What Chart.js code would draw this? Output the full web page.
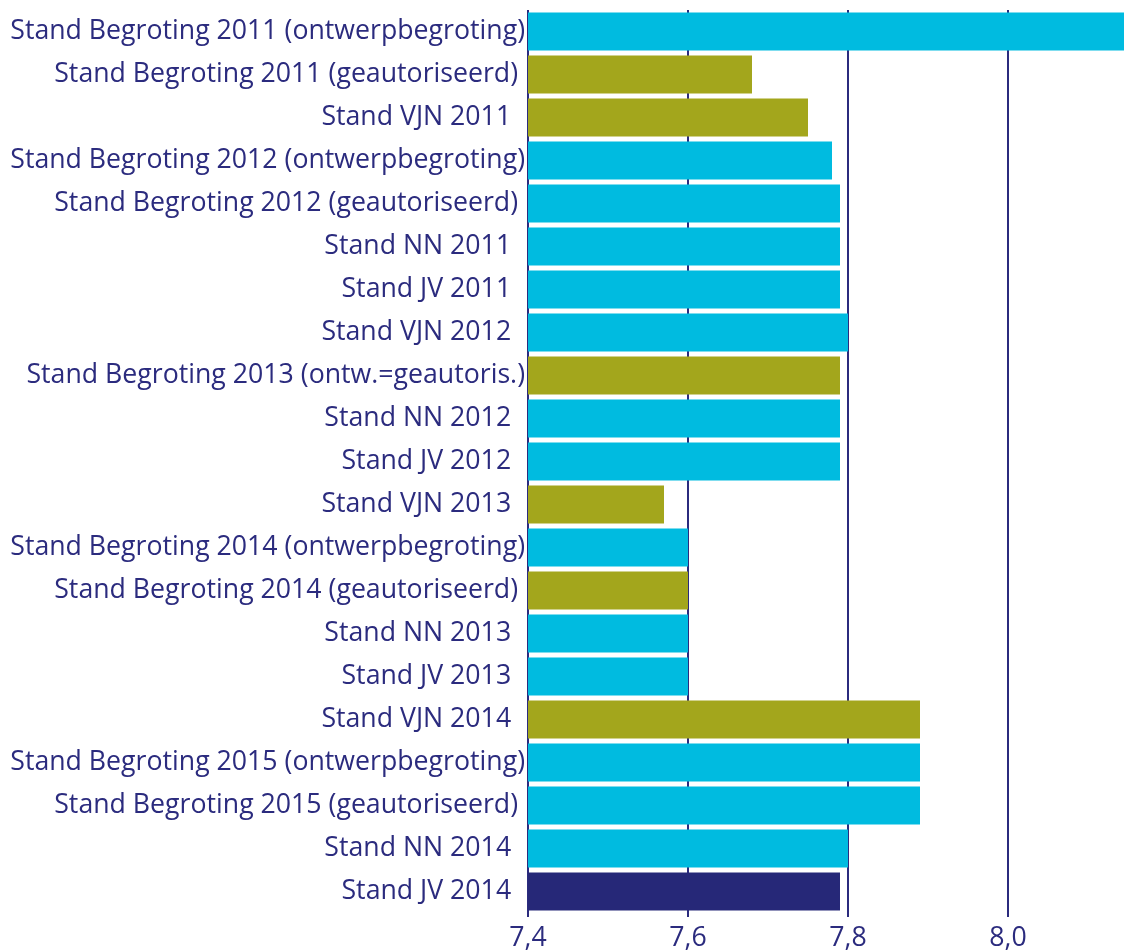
<!DOCTYPE html>
<html>
<head>
<meta charset="utf-8">
<script src="https://cdn.jsdelivr.net/npm/chart.js@4.4.1/dist/chart.umd.min.js"></script>
<style>
  html, body { margin: 0; padding: 0; background: #ffffff; overflow: hidden; }
  #wrap { width: 1124px; height: 950px; overflow: hidden; position: relative; }
  canvas { display: block; }
</style>
</head>
<body>
<div id="wrap"><canvas id="c" width="1124" height="980"></canvas></div>
<script>
const categories = [
  "Stand Begroting 2011 (ontwerpbegroting)",
  "Stand Begroting 2011 (geautoriseerd) ",
  "Stand VJN 2011  ",
  "Stand Begroting 2012 (ontwerpbegroting)",
  "Stand Begroting 2012 (geautoriseerd) ",
  "Stand NN 2011  ",
  "Stand JV 2011  ",
  "Stand VJN 2012  ",
  "Stand Begroting 2013 (ontw.=geautoris.)",
  "Stand NN 2012  ",
  "Stand JV 2012  ",
  "Stand VJN 2013  ",
  "Stand Begroting 2014 (ontwerpbegroting)",
  "Stand Begroting 2014 (geautoriseerd) ",
  "Stand NN 2013  ",
  "Stand JV 2013  ",
  "Stand VJN 2014  ",
  "Stand Begroting 2015 (ontwerpbegroting)",
  "Stand Begroting 2015 (geautoriseerd) ",
  "Stand NN 2014  ",
  "Stand JV 2014  "
];
const values = [
  8.25, 7.68, 7.75, 7.78, 7.79, 7.79, 7.79, 7.80, 7.79, 7.79, 7.79,
  7.57, 7.60, 7.60, 7.60, 7.60, 7.89, 7.89, 7.89, 7.80, 7.79
];
// kind of each stage: "regular", "update", "final"
const kinds = [
  "regular", "update", "update", "regular", "regular", "regular", "regular",
  "regular", "update", "regular", "regular", "update", "regular", "update",
  "regular", "regular", "update", "regular", "regular", "regular", "final"
];
const xTickLabels = ["7,4", "7,6", "7,8", "8,0"];
const xMin = 7.4, xMax = 8.145, xStep = 0.2;

const kindColors = { regular: "#00BBE0", update: "#A3A61C", final: "#262878" };
const navy = "#2B2B7E";
const fontFamily = "'Open Sans', 'Noto Sans', sans-serif";
const fontSize = 26.7;

const ctx = document.getElementById("c").getContext("2d");
new Chart(ctx, {
  type: "bar",
  data: {
    labels: categories,
    datasets: [{
      data: values,
      backgroundColor: kinds.map(k => kindColors[k]),
      borderWidth: 0,
      barPercentage: 0.884,
      categoryPercentage: 1.0
    }]
  },
  options: {
    indexAxis: "y",
    responsive: false,
    animation: false,
    layout: { padding: { top: 10, left: 0, right: 0, bottom: 0 } },
    plugins: { legend: { display: false }, tooltip: { enabled: false } },
    scales: {
      x: {
        min: xMin, max: xMax,
        afterFit: s => { s.height = 980 - 913; s.paddingLeft = 0; s.paddingRight = 0; },
        grid: { color: navy, lineWidth: 2, drawTicks: true, tickLength: 4, tickColor: navy },
        border: { display: false },
        ticks: {
          stepSize: xStep,
          includeBounds: false,
          color: navy,
          padding: 5,
          font: { family: fontFamily, size: fontSize },
          callback: (v, i) => xTickLabels[i]
        }
      },
      y: {
        afterFit: s => { s.width = 528; s.paddingTop = 0; s.paddingBottom = 0; },
        grid: { display: false, drawTicks: false },
        border: { display: false },
        ticks: {
          autoSkip: false,
          color: navy,
          padding: 3,
          font: { family: fontFamily, size: fontSize }
        }
      }
    }
  }
});
</script>
</body>
</html>
